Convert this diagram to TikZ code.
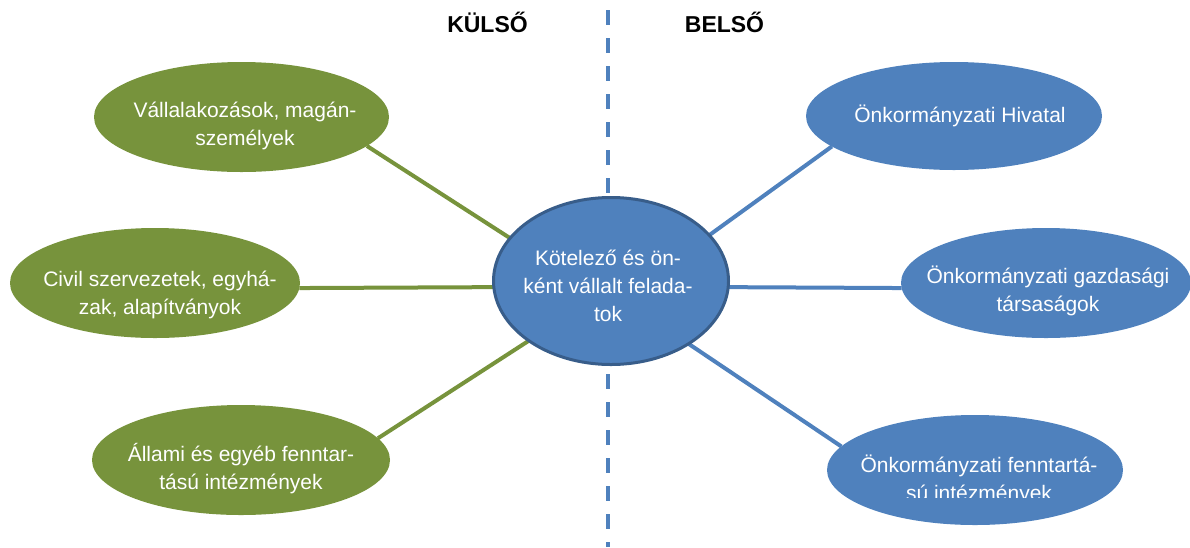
\documentclass[tikz,border=0pt]{standalone}
\usepackage{fontspec}
\setmainfont{Liberation Sans}
\usetikzlibrary{shapes.geometric,backgrounds}
\definecolor{grn}{HTML}{77933C}
\definecolor{blu}{HTML}{4F81BD}
\definecolor{bdr}{HTML}{385D8A}
\newcommand{\mylines}[1]{\parbox[t]{12cm}{\centering #1}}
\tikzset{
 ell/.style={ellipse, inner sep=0pt, outer sep=0pt, draw=none},
 gell/.style={ell, fill=grn},
 bell/.style={ell, fill=blu},
 txt/.style={anchor=base, inner sep=0pt, text=white, font=\fontsize{21}{28}\selectfont},
 gline/.style={draw=grn, line width=4pt},
 bline/.style={draw=blu, line width=4pt},
 ttl/.style={anchor=base, inner sep=0pt, font=\fontsize{23}{28}\selectfont\bfseries},
 divider/.style={draw=blu, line width=4pt, dash pattern=on 15pt off 13pt, dash phase=18pt},
}
\begin{document}
\begin{tikzpicture}[x=1pt,y=-1pt]
\useasboundingbox (0,0) rectangle (1190,547);
% ellipses
\node[gell, minimum width=295pt, minimum height=110pt] (tl) at (241.5,117) {};
\node[gell, minimum width=290pt, minimum height=110pt] (ml) at (155,283) {};
\node[gell, minimum width=298pt, minimum height=110pt] (bl) at (241,460) {};
\node[ell, fill=blu, draw=bdr, line width=3pt, minimum width=235pt, minimum height=167pt] (c) at (611,281) {};
\node[bell, minimum width=296pt, minimum height=108pt] (tr) at (954,116) {};
\node[bell, minimum width=290pt, minimum height=110pt] (mr) at (1046,283) {};
\node[bell, minimum width=296pt, minimum height=110pt] (br) at (975,470) {};
% divider ends
\coordinate (d1) at (608,0);
\coordinate (d2) at (608,547);
% connectors behind
\begin{scope}[on background layer]
\draw[divider] (d1) -- (d2);
\draw[gline] (tl.-13) -- (c.157);
\draw[gline] (ml.-2) -- (c.183);
\draw[gline] (bl.9) -- (c.216);
\draw[bline] (c.25) -- (tr.194);
\draw[bline] (c.-3) -- (mr.182);
\draw[bline] (c.-39) -- (br.170);
\end{scope}
% titles
\node[ttl] (kul) at (487.5,32) {KÜLSŐ};
\node[ttl] (bel) at (724.5,32) {BELSŐ};
% texts
\node[txt] (tlt) at (245,117) {\mylines{Vállalakozások, magán-\\személyek}};
\node[txt] (mlt) at (160,286) {\mylines{Civil szervezetek, egyhá-\\zak, alapítványok}};
\node[txt] (blt) at (241,461) {\mylines{Állami és egyéb fenntar-\\tású intézmények}};
\node[txt] (ct) at (608,265) {\mylines{Kötelező és ön-\\ként vállalt felada-\\tok}};
\node[txt] (trt) at (960,122) {Önkormányzati Hivatal};
\node[txt] (mrt) at (1048,283) {\mylines{Önkormányzati gazdasági\\társaságok}};
\begin{scope}
\clip (800,380) rectangle (1190,497);
\node[txt] (brt) at (979,472) {\mylines{Önkormányzati fenntartá-\\sú intézmények}};
\end{scope}
\end{tikzpicture}
\end{document}
